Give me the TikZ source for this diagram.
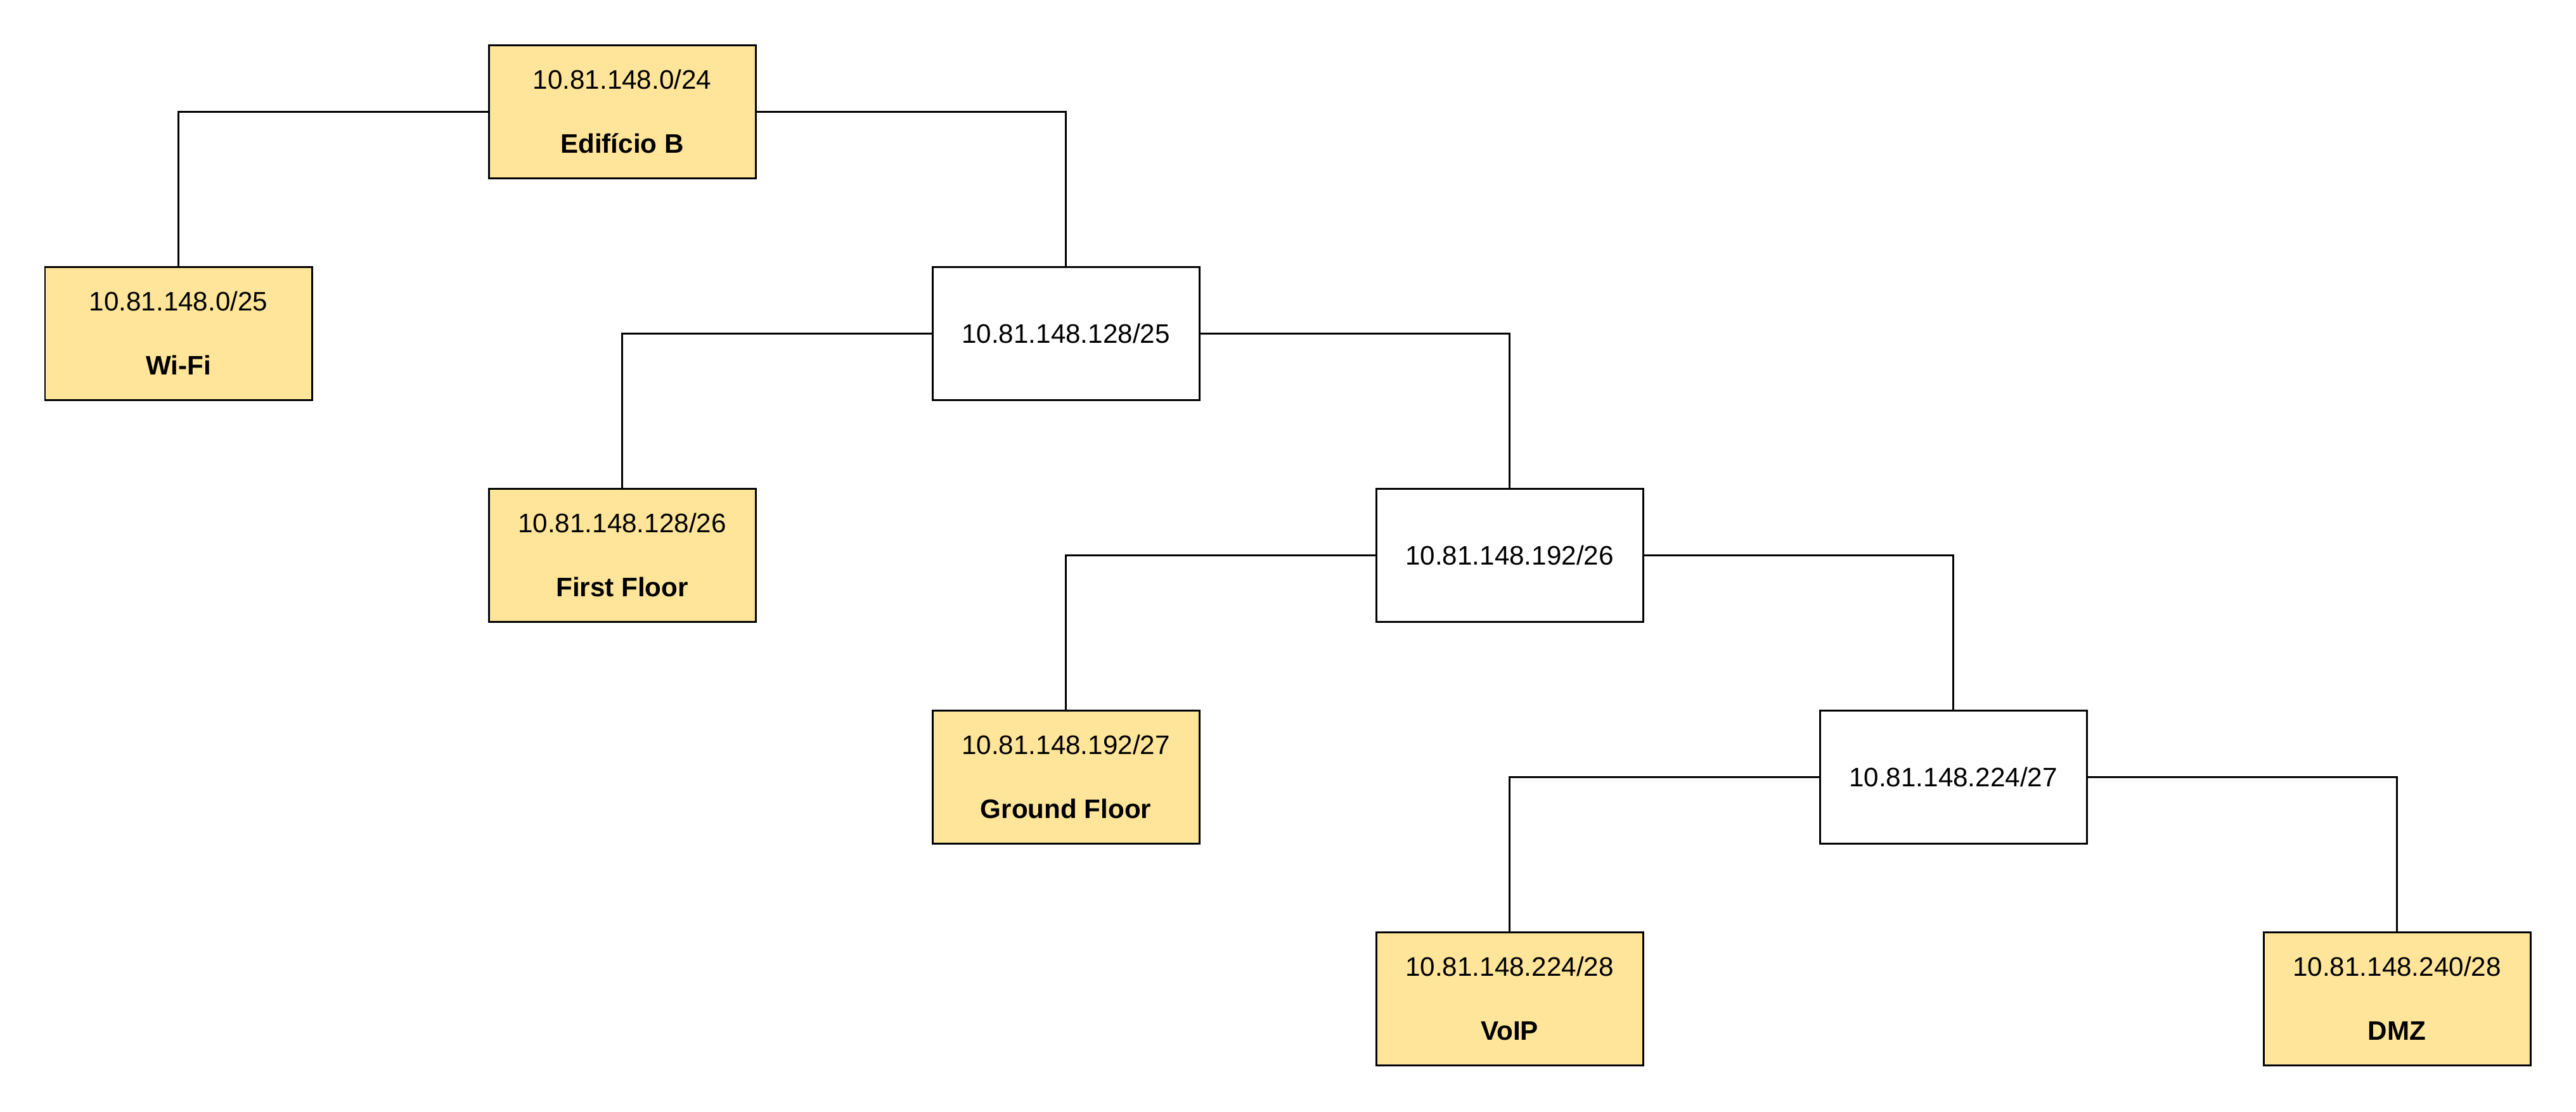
\documentclass[tikz,border=0pt]{standalone}
\usepackage{fontspec}
\setmainfont{Liberation Sans}
\definecolor{leafyellow}{HTML}{FFE599}

\begin{document}
\begin{tikzpicture}[
	net/.style={
		rectangle,
		draw,
		line width=0.85pt,
		minimum width=4.21cm,
		minimum height=2.10cm,
		align=center,
		fill=white,
		font=\fontsize{12}{14.4}\selectfont,
	},
	leaf/.style={% Subnets that are kept
		net,
		fill=leafyellow,
	},
	LinkC1/.style={
		line width=0.85pt,
	},
]
\useasboundingbox (0,0) rectangle (40.64,-17.54);

\node[leaf] (edb) at (9.815,-1.76) {10.81.148.0/24\\[14.4pt]\textbf{Edifício B}};
\node[leaf] (wifi) at (2.815,-5.26) {10.81.148.0/25\\[14.4pt]\textbf{Wi-Fi}};
\node[net] (n25) at (16.815,-5.26) {10.81.148.128/25};
\node[leaf] (first) at (9.815,-8.76) {10.81.148.128/26\\[14.4pt]\textbf{First Floor}};
\node[net] (n26) at (23.815,-8.76) {10.81.148.192/26};
\node[leaf] (ground) at (16.815,-12.26) {10.81.148.192/27\\[14.4pt]\textbf{Ground Floor}};
\node[net] (n27) at (30.815,-12.26) {10.81.148.224/27};
\node[leaf] (voip) at (23.815,-15.76) {10.81.148.224/28\\[14.4pt]\textbf{VoIP}};
\node[leaf] (dmz) at (37.815,-15.76) {10.81.148.240/28\\[14.4pt]\textbf{DMZ}};

\draw[LinkC1] (edb.west) -| (wifi.north);
\draw[LinkC1] (edb.east) -| (n25.north);

\draw[LinkC1] (n25.west) -| (first.north);
\draw[LinkC1] (n25.east) -| (n26.north);

\draw[LinkC1] (n26.west) -| (ground.north);
\draw[LinkC1] (n26.east) -| (n27.north);

\draw[LinkC1] (n27.west) -| (voip.north);
\draw[LinkC1] (n27.east) -| (dmz.north);

\end{tikzpicture}
\end{document}
